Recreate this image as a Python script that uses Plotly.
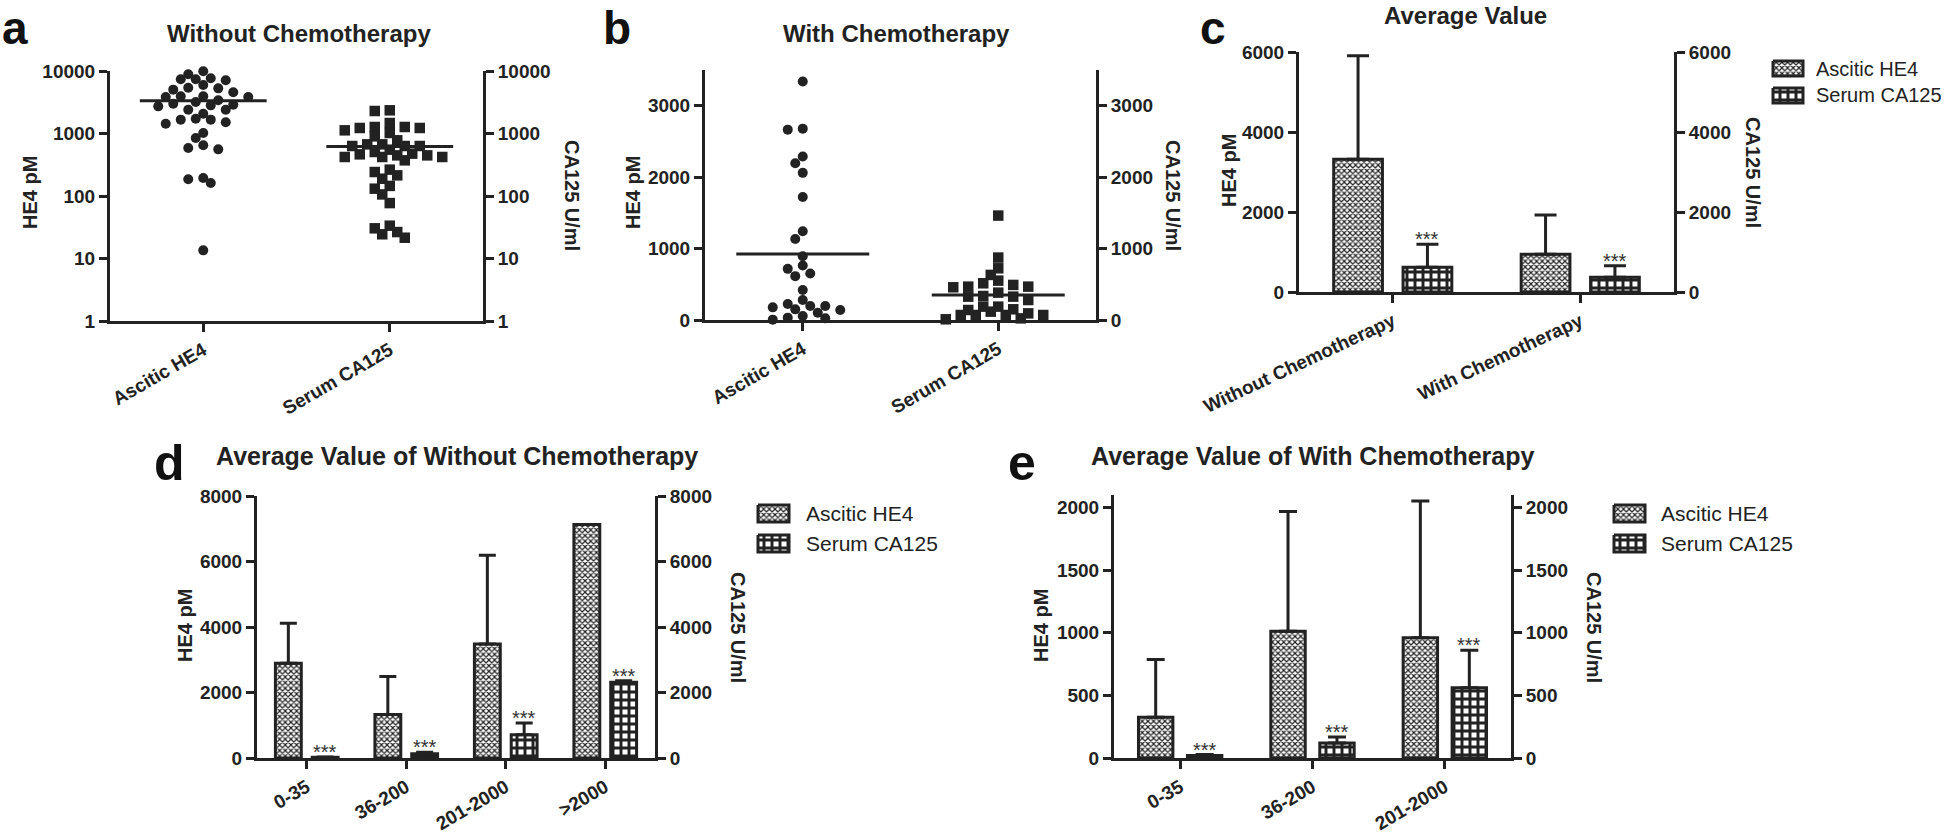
import numpy as np
import plotly.graph_objects as go

W, H = 1946, 833
FONT = "Liberation Sans, Arial, Helvetica, sans-serif"
INK = "#222222"

# ---------------- data ----------------
# Panel a: Without chemotherapy, individual values
a_cats = ["Ascitic HE4", "Serum CA125"]
a_he4 = [9880, 8850, 7360, 7090, 7360, 7640,
         5410, 5030, 5280, 5970, 4560,
         3835, 3935, 3395, 3935, 3190, 3835,
         3000, 2820, 2720, 2890,
         2405, 2075, 2405,
         1727, 1665, 1436, 1510, 1665,
         1019, 847,
         647, 558, 586,
         185, 161, 194,
         13.5]
a_ca125 = [2291, 2349, 1472, 1271, 1225, 1225, 1271, 1019, 1124, 901, 778,
           671, 631, 631, 631, 671, 551, 476, 506,
           421, 421, 372, 464, 421, 447, 447,
           214, 264, 189, 242, 106, 145, 131, 77,
           33.5, 26.5, 21.5, 24.4, 30.4]
a_ticks = [1, 10, 100, 1000, 10000]

# Panel b: With chemotherapy, individual values
b_cats = ["Ascitic HE4", "Serum CA125"]
b_he4 = [3340, 2665, 2679, 2288, 2195, 2060, 1721, 1242, 1135, 893, 716, 763,
         614, 651, 419, 279, 195, 223, 177, 195, 149, 102, 140, 33, 5, 23, 56]
b_ca125 = [1462, 874, 724, 551, 467, 491, 514, 631, 467, 458, 336, 327, 280,
           327, 383, 187, 140, 117, 150, 187, 93, 70, 70, 10, 23, 70, 70]
b_ticks = [0, 1000, 2000, 3000]

# Panel c: averages
c_cats = ["Without Chemotherapy", "With Chemotherapy"]
c_he4_mean = [3317, 942]
c_he4_sd = [2591, 983]
c_ca125_mean = [617, 367]
c_ca125_sd = [575, 291]
c_ticks = [0, 2000, 4000, 6000]

# Panel d: averages without chemotherapy by CA125 range
d_cats = ["0-35", "36-200", "201-2000", ">2000"]
d_he4_mean = [2893, 1330, 3482, 7127]
d_he4_sd = [1219, 1157, 2711, 0]
d_ca125_mean = [22, 130, 711, 2315]
d_ca125_sd = [8, 45, 355, 40]
d_ticks = [0, 2000, 4000, 6000, 8000]

# Panel e: averages with chemotherapy by CA125 range
e_cats = ["0-35", "36-200", "201-2000"]
e_he4_mean = [325, 1013, 960]
e_he4_sd = [462, 955, 1093]
e_ca125_mean = [19, 120, 560]
e_ca125_sd = [8, 48, 301]
e_ticks = [0, 500, 1000, 1500, 2000]

series_names = ["Ascitic HE4", "Serum CA125"]
sig_text = "***"

# ---------------- layout geometry (screen pixels) ----------------
P = {
    "a": dict(xd=(110, 483), yd=(71, 321), xr=(-0.5, 1.5), yr=(0, 4), log=True, ang=-30),
    "b": dict(xd=(705, 1096), yd=(70, 320), xr=(-0.5, 1.5), yr=(0, 3500), log=False, ang=-30),
    "c": dict(xd=(1299, 1674), yd=(52, 292), xr=(-0.5, 1.5), yr=(0, 6000), log=False, ang=-25),
    "d": dict(xd=(257, 655), yd=(496, 758), xr=(-0.5, 3.5), yr=(0, 8000), log=False, ang=-30),
    "e": dict(xd=(1114, 1511), yd=(495, 758), xr=(-0.5, 2.5), yr=(0, 2100), log=False, ang=-30),
}
order = ["a", "b", "c", "d", "e"]


def fx(px):
    return px / W


def fy(py):
    return 1 - py / H


def xdom(p):
    return [fx(p[0]), fx(p[1])]


def ydom(p):
    return [fy(p[1]), fy(p[0])]


def axname(kind, i):
    return f"{kind}axis" if i == 1 else f"{kind}axis{i}"


def axref(kind, i):
    return kind if i == 1 else f"{kind}{i}"


def base_axis():
    return dict(showline=True, linewidth=3, linecolor=INK, ticks="outside",
                ticklen=8, tickwidth=3, tickcolor=INK, showgrid=False,
                zeroline=False, fixedrange=True, automargin=False,
                tickfont=dict(family=FONT, size=19, color=INK, weight="bold"))


fig = go.Figure()
layout = dict(width=W, height=H, margin=dict(l=0, r=0, t=0, b=0, pad=0, autoexpand=False),
              paper_bgcolor="white", plot_bgcolor="rgba(0,0,0,0)",
              showlegend=False, barmode="overlay")

refs = {}
cats_map = {"a": a_cats, "b": b_cats, "c": c_cats, "d": d_cats, "e": e_cats}
ticks_map = {"a": a_ticks, "b": b_ticks, "c": c_ticks, "d": d_ticks, "e": e_ticks}
for k, key in enumerate(order, start=1):
    p = P[key]
    xi, yl, yr_ = k, 2 * k - 1, 2 * k
    xr, ylr, yrr = axref("x", xi), axref("y", yl), axref("y", yr_)
    refs[key] = (xr, ylr, yrr)
    cats = cats_map[key]
    xa = base_axis()
    xa.update(domain=xdom(p["xd"]), range=list(p["xr"]), anchor=ylr,
              tickmode="array", tickvals=list(range(len(cats))), ticktext=cats,
              tickangle=p["ang"])
    layout[axname("x", xi)] = xa
    tv = ticks_map[key]
    for side, yi in (("left", yl), ("right", yr_)):
        ya = base_axis()
        ya.update(domain=ydom(p["yd"]), range=list(p["yr"]), anchor=xr, side=side,
                  tickmode="array", tickvals=tv, ticktext=[str(t) for t in tv])
        if p["log"]:
            ya["type"] = "log"
        if side == "right":
            ya["overlaying"] = ylr
        layout[axname("y", yi)] = ya

# overlay axis in screen-pixel units for legend patches
layout["xaxis6"] = dict(domain=[0, 1], range=[0, W], visible=False, fixedrange=True, anchor="y11")
layout["yaxis11"] = dict(domain=[0, 1], range=[H, 0], visible=False, fixedrange=True, anchor="x6")


# ---------------- beeswarm (panels a, b) ----------------
def swarm(vals, to_px, px_per_unit, step=7.5, dmin=9.0):
    ys = [to_px(v) for v in vals]
    idx = sorted(range(len(vals)), key=lambda i: -ys[i])
    placed, offs = [], [0.0] * len(vals)
    ks = [0] + [s * j for j in range(1, 60) for s in (-1, 1)]
    for i in idx:
        y = ys[i]
        for kk in ks:
            x = kk * step
            if all((x - px) ** 2 + (y - py) ** 2 >= dmin ** 2 for px, py in placed):
                break
        placed.append((x, y))
        offs[i] = x / px_per_unit
    return offs


def dot_panel(key, he4, ca125):
    p = P[key]
    xr, ylr, yrr = refs[key]
    hpx = p["yd"][1] - p["yd"][0]
    ppu = (p["xd"][1] - p["xd"][0]) / (p["xr"][1] - p["xr"][0])
    span = p["yr"][1] - p["yr"][0]
    if p["log"]:
        to_px = lambda v: np.log10(v) * hpx / span
    else:
        to_px = lambda v: v * hpx / span
    for ci, (vals, sym, size, yref) in enumerate(((he4, "circle", 10, ylr), (ca125, "square", 10.5, yrr))):
        offs = swarm(vals, to_px, ppu)
        fig.add_trace(go.Scatter(x=[ci + o for o in offs], y=vals, mode="markers",
                                 marker=dict(symbol=sym, size=size, color=INK, line=dict(width=0)),
                                 xaxis=xr, yaxis=yref, cliponaxis=False, hoverinfo="skip"))
        m = float(np.mean(vals))
        fig.add_trace(go.Scatter(x=[ci - 0.34, ci + 0.34], y=[m, m], mode="lines",
                                 line=dict(color=INK, width=3), xaxis=xr, yaxis=yref,
                                 hoverinfo="skip", cliponaxis=False))


dot_panel("a", a_he4, a_ca125)
dot_panel("b", b_he4, b_ca125)

# ---------------- bar panels ----------------
PAT_HE4 = dict(shape="x", size=4, solidity=0.5, fgcolor=INK, bgcolor="white", fillmode="replace")
PAT_CA = dict(shape="+", size=8, solidity=0.6, fgcolor=INK, bgcolor="white", fillmode="replace")
annotations = []
cap_w = {"c": 11, "d": 8.5, "e": 9}


def bar_panel(key, he4_m, he4_sd, ca_m, ca_sd):
    xr, ylr, yrr = refs[key]
    n = len(he4_m)
    for side, m, sd, pat, yref in ((-1, he4_m, he4_sd, PAT_HE4, ylr), (1, ca_m, ca_sd, PAT_CA, yrr)):
        xs = [i + side * 0.185 for i in range(n)]
        fig.add_trace(go.Bar(x=xs, y=m, width=0.26, xaxis=xr, yaxis=yref,
                             marker=dict(color="white", pattern=pat, line=dict(color=INK, width=3)),
                             error_y=dict(type="data", array=sd, arrayminus=[0] * n, symmetric=False,
                                          color=INK, thickness=3, width=cap_w[key]),
                             hoverinfo="skip"))
        if side == 1:
            for x, mm, s in zip(xs, m, sd):
                annotations.append(dict(x=x, y=mm + s, xref=xr, yref=yref, text=sig_text,
                                        showarrow=False, yanchor="bottom", yshift=-8,
                                        font=dict(family=FONT, size=20, color="#333333")))


bar_panel("c", c_he4_mean, c_he4_sd, c_ca125_mean, c_ca125_sd)
bar_panel("d", d_he4_mean, d_he4_sd, d_ca125_mean, d_ca125_sd)
bar_panel("e", e_he4_mean, e_he4_sd, e_ca125_mean, e_ca125_sd)


# ---------------- legends (patches + text) ----------------
def legend(x0, x1, rows, text_x, fsize):
    for (y0, y1), pat, name in zip(rows, (PAT_HE4, PAT_CA), series_names):
        fig.add_trace(go.Scatter(x=[x0, x1, x1, x0, x0], y=[y0, y0, y1, y1, y0], mode="lines",
                                 fill="toself", fillcolor="white", fillpattern=pat,
                                 line=dict(color=INK, width=3), xaxis="x6", yaxis="y11",
                                 hoverinfo="skip"))
        annotations.append(dict(x=fx(text_x), y=fy((y0 + y1) / 2), xref="paper", yref="paper",
                                text=name, showarrow=False, xanchor="left", yanchor="middle",
                                font=dict(family=FONT, size=fsize, color=INK)))


legend(1773, 1803, [(61, 76), (88, 103)], 1814, 20)
legend(758, 789, [(505, 522), (535, 552)], 804, 21)
legend(1614, 1645, [(505, 522), (535, 552)], 1659, 21)


# ---------------- text annotations ----------------
def pa(text, px, py, size, bold=True, angle=0, xanchor="center", yanchor="middle"):
    annotations.append(dict(text=text, x=fx(px), y=fy(py), xref="paper", yref="paper",
                            showarrow=False, textangle=angle, xanchor=xanchor, yanchor=yanchor,
                            font=dict(family=FONT, size=size, color=INK if size < 40 else "#111111",
                                      weight="bold" if bold else "normal")))


# panel letters (top row anchored to the top edge so they stay on the page)
pa("a", 0, 0, 46, xanchor="left", yanchor="top")
pa("b", 617, 0, 46, yanchor="top")
pa("c", 1213, 0, 46, yanchor="top")
pa("d", 169, 463, 50)
pa("e", 1022, 463, 50)

pa("Without Chemotherapy", 299, 33, 24)
pa("With Chemotherapy", 896, 33, 24)
pa("Average Value", 1465, 16, 24)
pa("Average Value of Without Chemotherapy", 457, 456, 25)
pa("Average Value of With Chemotherapy", 1312, 456, 25)

for x, y in ((30, 193), (633, 193), (1229, 171), (185, 626), (1041, 626)):
    pa("HE4 pM", x, y, 20, angle=-90)
for x, y in ((572, 195), (1173, 195), (1753, 172), (738, 627), (1594, 627)):
    pa("CA125 U/ml", x, y, 20, angle=90)

layout["annotations"] = annotations
fig.update_layout(**layout)
fig.write_html("out.html", config={"displayModeBar": False, "staticPlot": True},
               post_script="document.body.style.margin='0px';document.body.style.overflow='hidden';")
